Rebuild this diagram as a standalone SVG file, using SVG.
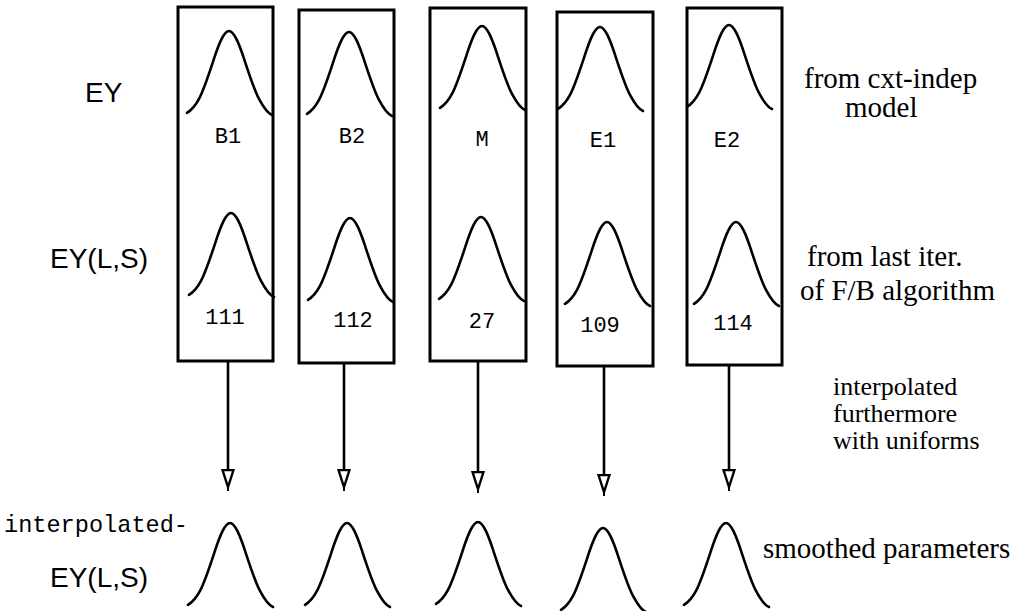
<svg xmlns="http://www.w3.org/2000/svg" xmlns:xlink="http://www.w3.org/1999/xlink" width="1015" height="611" viewBox="0 0 1015 611">
  <style>
    .box { fill: none; stroke: #000; stroke-width: 3; }
    .curve { fill: none; stroke: #000; stroke-width: 2.6; stroke-linecap: round; }
    .edge { fill: none; stroke: #000; stroke-width: 2.6; }
    .mono { font-family: "Liberation Mono", "Courier New", monospace; font-size: 22px; fill: #000; }
    .sans { font-family: "Liberation Sans", Arial, sans-serif; font-size: 28px; fill: #000; }
    .serif { font-family: "Liberation Serif", "Times New Roman", serif; font-size: 29px; fill: #000; }
    .serif.small { font-size: 26px; }
  </style>
  <defs>
    <!-- bell-shaped density (sigma ~17px), peak at the origin -->
    <path id="bell" d="M-42,81.9 C-38,79.5 -34,75.4 -30,67.9 C-25,58.5 -20,42.85 -15,27.7 C-10,12.55 -5,0 0,0 C5,0 10,12.55 15,27.7 C20,42.85 25,58.5 30,67.9 C34,75.4 39,82.5 43,84"/>
    <marker id="openHead" viewBox="0 0 22 14" refX="1" refY="7" markerWidth="22" markerHeight="14" markerUnits="userSpaceOnUse" orient="auto">
      <path d="M1,1.5 L18,7 L1,12.5 Z" fill="#fff" stroke="#000" stroke-width="2.4" stroke-linejoin="miter"/>
      <path d="M18,7 L22,7" stroke="#000" stroke-width="2"/>
    </marker>
  </defs>

  <rect width="1015" height="611" fill="#fff"/>

  <!-- row captions -->
  <g id="row-labels">
    <text class="sans" x="85" y="102">EY</text>
    <text class="sans" x="50" y="268">EY(L,S)</text>
    <text class="mono" x="4" y="532" style="font-size:24px" textLength="184" lengthAdjust="spacingAndGlyphs">interpolated-</text>
    <text class="sans" x="50" y="587">EY(L,S)</text>
  </g>

  <g id="notes">
    <text class="serif" x="804" y="88">from cxt-indep</text>
    <text class="serif" x="845" y="117">model</text>
    <text class="serif" x="807" y="266">from last iter.</text>
    <text class="serif" x="800" y="300">of F/B algorithm</text>
    <text class="serif small" x="833" y="395">interpolated</text>
    <text class="serif small" x="833" y="422">furthermore</text>
    <text class="serif small" x="833" y="449">with uniforms</text>
    <text class="serif" x="763" y="558">smoothed parameters</text>
  </g>

  <!-- state columns -->
  <g id="state-B1">
    <rect class="box" x="178" y="7" width="95" height="354"/>
    <use href="#bell" class="curve" x="229" y="31"/>
    <text class="mono" x="228" y="143" text-anchor="middle">B1</text>
    <use href="#bell" class="curve" x="231" y="213"/>
    <text class="mono" x="225" y="324" text-anchor="middle">111</text>
  </g>
  <g id="state-B2">
    <rect class="box" x="299" y="10" width="95" height="353"/>
    <use href="#bell" class="curve" x="349" y="32"/>
    <text class="mono" x="352" y="143" text-anchor="middle">B2</text>
    <use href="#bell" class="curve" x="350" y="218"/>
    <text class="mono" x="353" y="327" text-anchor="middle">112</text>
  </g>
  <g id="state-M">
    <rect class="box" x="430" y="8" width="96" height="353"/>
    <use href="#bell" class="curve" x="482" y="26"/>
    <text class="mono" x="482" y="146" text-anchor="middle">M</text>
    <use href="#bell" class="curve" x="481" y="217"/>
    <text class="mono" x="482" y="328" text-anchor="middle">27</text>
  </g>
  <g id="state-E1">
    <rect class="box" x="557" y="12" width="96" height="354"/>
    <use href="#bell" class="curve" x="600" y="27"/>
    <text class="mono" x="603" y="147" text-anchor="middle">E1</text>
    <use href="#bell" class="curve" x="607" y="222"/>
    <text class="mono" x="600" y="332" text-anchor="middle">109</text>
  </g>
  <g id="state-E2">
    <rect class="box" x="687" y="8" width="95" height="357"/>
    <use href="#bell" class="curve" x="729" y="25"/>
    <text class="mono" x="727" y="147" text-anchor="middle">E2</text>
    <use href="#bell" class="curve" x="736" y="222"/>
    <text class="mono" x="733" y="330" text-anchor="middle">114</text>
  </g>

  <!-- smoothed output densities -->
  <g id="smoothed">
    <use href="#bell" class="curve" x="230" y="523"/>
    <use href="#bell" class="curve" x="347" y="523"/>
    <use href="#bell" class="curve" x="478" y="522"/>
    <use href="#bell" class="curve" x="603" y="528"/>
    <use href="#bell" class="curve" x="726" y="523"/>
  </g>

  <!-- connectors -->
  <g id="connectors">
    <path class="edge" d="M228,361 V470" marker-end="url(#openHead)"/>
    <path class="edge" d="M344,363 V470" marker-end="url(#openHead)"/>
    <path class="edge" d="M478,361 V472" marker-end="url(#openHead)"/>
    <path class="edge" d="M604,366 V475" marker-end="url(#openHead)"/>
    <path class="edge" d="M729,365 V470" marker-end="url(#openHead)"/>
  </g>
</svg>
